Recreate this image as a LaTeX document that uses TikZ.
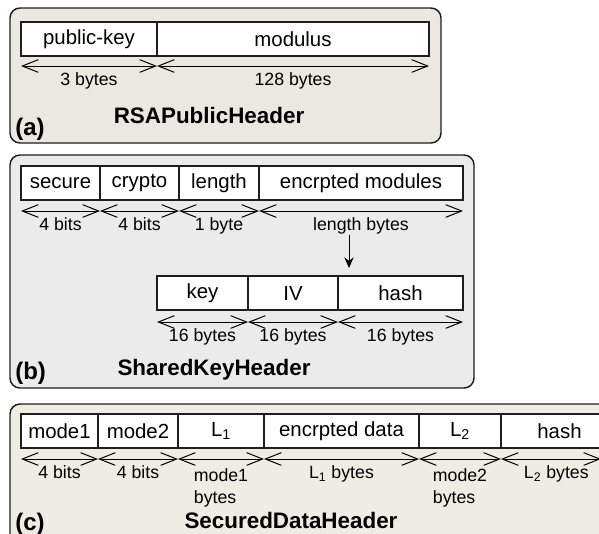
\documentclass[tikz,border=0pt]{standalone}
\usepackage{fontspec}
\setmainfont{Liberation Sans}
\usepackage{tikz}
\usetikzlibrary{arrows.meta}
\tikzstyle{pixelGrid} = [x = 0.75pt, y = -0.75pt]
\definecolor{panelBeige}{RGB}{235,232,225}
\definecolor{panelGray}{RGB}{235,235,235}
\definecolor{panelOlive}{RGB}{238,237,228}
\definecolor{borderColor}{RGB}{30,30,30}
\tikzstyle{panelStyle} = [color=borderColor, line width=1.1pt, rounded corners = 7.5pt]
\tikzstyle{fieldStyle} = [color=borderColor, fill=white, line width=1pt]
\tikzstyle{fieldText} = [font=\fontsize{15.3}{18}\selectfont, midway, text=black]
\tikzstyle{sizeArrowStyle} = [{Straight Barb[length=12pt, width=9.5pt]}-{Straight Barb[length=12pt, width=9.5pt]}, line width=0.75pt]
\tikzstyle{sizeText} = [font=\fontsize{13.3}{16}\selectfont, midway, anchor=north, inner sep=0pt, yshift=-4.5pt]
\tikzstyle{modeText} = [sizeText, align=left, yshift=-2.5pt]
\tikzstyle{titleText} = [font=\fontsize{16.8}{20}\selectfont\bfseries, anchor=base, inner sep=0pt]
\tikzstyle{panelText} = [font=\fontsize{18}{20}\selectfont\bfseries, anchor=base west, inner sep=0pt]
\tikzstyle{downArrow} = [-{Stealth[length=8pt, width=7pt]}, line width=0.75pt]
\newcommand{\headerField}[5]{\draw [fieldStyle] (#2, #4) rectangle (#3, #4 + 34) node [fieldText] (#1) {#5};}
\newcommand{\sizeArrow}[4]{\draw [sizeArrowStyle] (#1) -- node [sizeText] (#3) {#4} (#2);}
\newcommand{\modeArrow}[4]{\draw [sizeArrowStyle] (#1) -- node [modeText] (#3) {#4} (#2);}

\begin{document}
\begin{tikzpicture}[pixelGrid]
  \useasboundingbox (0,0) rectangle (599,533);
  \clip (0,0) rectangle (599,533);

  % (a) RSAPublicHeader
  \filldraw [panelStyle, fill=panelBeige] (10,8) rectangle (441,143);
  \headerField{pubKey}{21}{157}{22}{public-key}
  \headerField{modulus}{157}{429}{22}{modulus}
  \foreach \x [count=\i from 0] in {21,157,429} {
    \coordinate (a\i) at (\x,66);
  }
  \sizeArrow{a0}{a1}{pubKeySize}{3 bytes}
  \sizeArrow{a1}{a2}{modulusSize}{128 bytes}
  \node [titleText] (rsaTitle) at (209,123) {RSAPublicHeader};
  \node [panelText] (panelA) at (15,135) {(a)};

  % (b) SharedKeyHeader
  \filldraw [panelStyle, fill=panelGray] (10,155) rectangle (474,388);
  \headerField{secure}{21}{100}{166}{secure}
  \headerField{crypto}{100}{179}{166}{crypto}
  \headerField{length}{179}{259}{166}{length}
  \headerField{modules}{259}{463}{166}{encrpted modules}
  \foreach \x [count=\i from 0] in {21,100,179,259,463} {
    \coordinate (b\i) at (\x,211);
  }
  \sizeArrow{b0}{b1}{secureSize}{4 bits}
  \sizeArrow{b1}{b2}{cryptoSize}{4 bits}
  \sizeArrow{b2}{b3}{lengthSize}{1 byte}
  \sizeArrow{b3}{b4}{modulesSize}{length bytes}
  \coordinate (splitStart) at (349,235);
  \coordinate (splitEnd) at (349,268);
  \draw [downArrow] (splitStart) -- (splitEnd);
  \headerField{key}{157}{248}{276}{key}
  \headerField{iv}{248}{338}{276}{IV}
  \headerField{keyHash}{338}{463}{276}{hash}
  \foreach \x [count=\i from 0] in {157,248,338,463} {
    \coordinate (k\i) at (\x,322);
  }
  \sizeArrow{k0}{k1}{keySize}{16 bytes}
  \sizeArrow{k1}{k2}{ivSize}{16 bytes}
  \sizeArrow{k2}{k3}{keyHashSize}{16 bytes}
  \node [titleText] (sharedTitle) at (214,375) {SharedKeyHeader};
  \node [panelText] (panelB) at (15,379) {(b)};

  % (c) SecuredDataHeader
  \filldraw [panelStyle, fill=panelOlive] (10,404) rectangle (640,570);
  \headerField{modeOne}{21}{98}{414}{mode1}
  \headerField{modeTwo}{98}{178}{414}{mode2}
  \headerField{lOne}{178}{264}{414}{L\textsubscript{1}}
  \headerField{data}{264}{419}{414}{encrpted data}
  \headerField{lTwo}{419}{501}{414}{L\textsubscript{2}}
  \headerField{dataHash}{501}{618}{414}{hash}
  \foreach \x [count=\i from 0] in {21,98,178,264,419,501,601} {
    \coordinate (c\i) at (\x,459);
  }
  \sizeArrow{c0}{c1}{modeOneSize}{4 bits}
  \sizeArrow{c1}{c2}{modeTwoSize}{4 bits}
  \modeArrow{c2}{c3}{lOneSize}{mode1\\bytes}
  \sizeArrow{c3}{c4}{dataSize}{L\textsubscript{1} bytes}
  \modeArrow{c4}{c5}{lTwoSize}{mode2\\bytes}
  \draw [sizeArrowStyle] (c5) -- node [sizeText, xshift=4pt] (hashSize) {L\textsubscript{2} bytes} (c6);
  \node [titleText] (securedTitle) at (291,528) {SecuredDataHeader};
  \node [panelText] (panelC) at (15,530) {(c)};
\end{tikzpicture}
\end{document}
